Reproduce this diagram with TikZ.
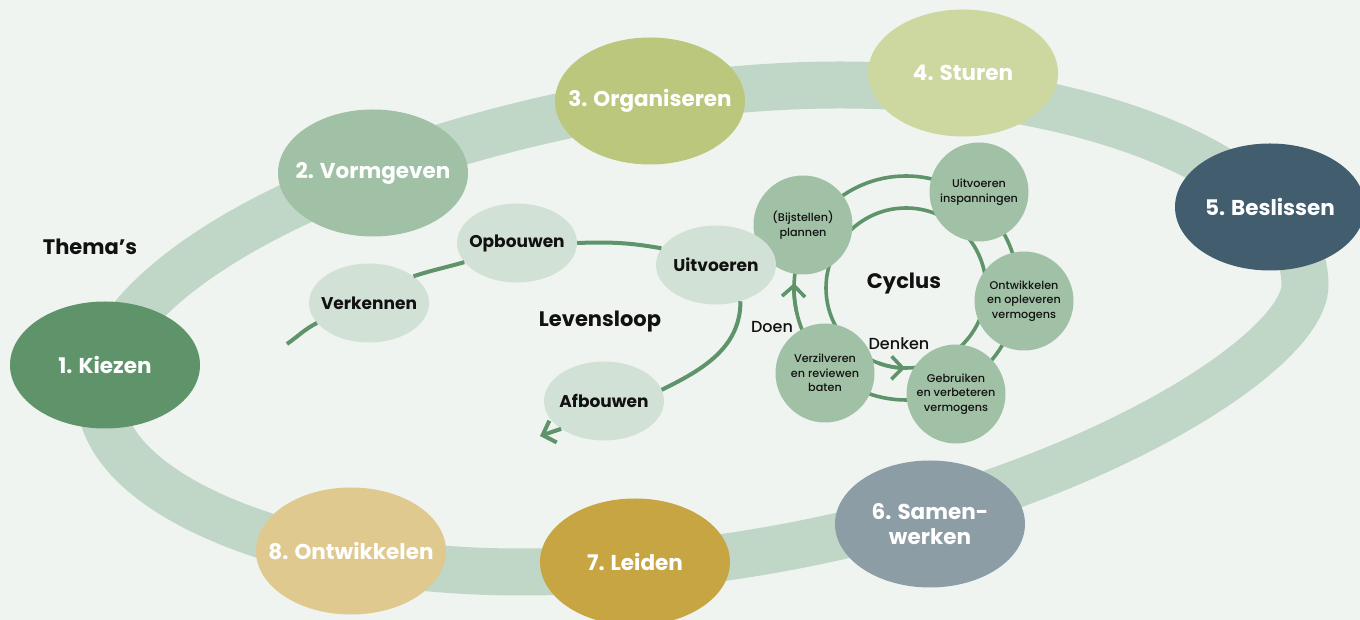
\documentclass[tikz,border=0pt]{standalone}
\usepackage{fontspec}
\setmainfont{Poppins}
\newfontfamily\medfont{Poppins Medium}
\usetikzlibrary{arrows.meta,shapes.geometric}
\definecolor{bgc}{HTML}{EFF4F0}
\definecolor{ringc}{HTML}{C0D7C7}
\definecolor{cA}{HTML}{5F946A}
\definecolor{cB}{HTML}{A1C1A6}
\definecolor{cC}{HTML}{BAC77C}
\definecolor{cD}{HTML}{CDD8A0}
\definecolor{cE}{HTML}{425D6E}
\definecolor{cF}{HTML}{8C9DA6}
\definecolor{cG}{HTML}{C8A543}
\definecolor{cH}{HTML}{DFC98E}
\definecolor{lifec}{HTML}{D2E1D5}
\definecolor{cycc}{HTML}{A1C1A6}
\definecolor{arrc}{HTML}{5F946A}
\definecolor{inkc}{HTML}{111111}
\begin{document}
\begin{tikzpicture}[x=1pt,y=1pt,
  theme/.style={ellipse, minimum width=190pt, minimum height=127pt, inner sep=0pt},
  themetext/.style={text=white, align=center, inner sep=0pt, font=\fontsize{21.5}{25}\selectfont\bfseries},
  phase/.style={ellipse, fill=lifec, minimum width=120pt, minimum height=79pt, inner sep=0pt},
  phasetext/.style={text=inkc, inner sep=0pt, font=\fontsize{17}{20}\selectfont\bfseries},
  stap/.style={circle, fill=cycc, minimum size=99pt, inner sep=0pt},
  staptext/.style={text=inkc, align=center, inner sep=0pt, font=\medfont\fontsize{11.2}{14.5}\selectfont},
  heading/.style={text=inkc, inner sep=0pt, font=\fontsize{21}{25}\selectfont\bfseries},
  minor/.style={text=inkc, inner sep=0pt, font=\medfont\fontsize{16}{19}\selectfont},
  ringline/.style={draw=ringc, line width=47pt},
  life/.style={draw=arrc, line width=4pt},
  cyc/.style={draw=arrc, line width=3.6pt},
  tip/.style={-{Straight Barb[length=11pt,width=23pt]}}
]
\useasboundingbox (0,0) rectangle (1360,620);
\fill[bgc] (0,0) rectangle (1360,620);

% big ring
\draw[ringline] (100,225) .. controls (100,127) and (288,48) .. (520,48)
  .. controls (953,48) and (1305,249) .. (1305,335)
  .. controls (1305,445) and (1096,535) .. (840,535)
  .. controls (507,535) and (100,380) .. (100,225);

% themes
\node[theme, fill=cA, label={[themetext]center:1. Kiezen}] (t1) at (105,255) {};
\node[theme, fill=cB, label={[themetext]center:2. Vormgeven}] (t2) at (373,447) {};
\node[theme, fill=cC, label={[themetext]center:3. Organiseren}] (t3) at (650,519) {};
\node[theme, fill=cD, label={[themetext]center:4. Sturen}] (t4) at (963,547) {};
\node[theme, fill=cE, label={[themetext]center:5. Beslissen}] (t5) at (1270,413) {};
\node[theme, fill=cF, label={[themetext]center:6. Samen-\\werken}] (t6) at (930,96) {};
\node[theme, fill=cG, label={[themetext]center:7. Leiden}] (t7) at (635,58) {};
\node[theme, fill=cH, label={[themetext]center:8. Ontwikkelen}] (t8) at (351,69) {};

% cycle rings
\draw[cyc] (906,332) circle[radius=112pt];
\draw[cyc] (906,332) circle[radius=80pt];

% cycle steps
\node[stap, label={[staptext]center:(Bijstellen)\\plannen}] (plan) at (803,395) {};
\node[stap, label={[staptext]center:Uitvoeren\\inspanningen}] (insp) at (979,428) {};
\node[stap, label={[staptext]center:Ontwikkelen\\en opleveren\\vermogens}] (ontw) at (1024,319) {};
\node[stap, label={[staptext]center:Gebruiken\\en verbeteren\\vermogens}] (gebr) at (956,226) {};
\node[stap, label={[staptext]center:Verzilveren\\en reviewen\\baten}] (verz) at (825,247) {};

% cycle arrows
\draw[cyc, tip] (906,332) ++(192:112pt) arc[start angle=192, end angle=177.5, radius=112pt];
\draw[cyc, tip] (906,332) ++(250:80pt) arc[start angle=250, end angle=269.3, radius=80pt];

% life cycle
\node[phase, label={[phasetext]center:Verkennen}] (verk) at (369,317) {};
\node[phase, label={[phasetext]center:Opbouwen}] (opb) at (517,377) {};
\node[phase, label={[phasetext]center:Uitvoeren}] (uitv) at (716,355) {};
\node[phase, label={[phasetext]center:Afbouwen}] (afb) at (604,219) {};
\coordinate (lstart) at (287,276);
\coordinate (lend) at (540,184);
\draw[life] (lstart) to[out=35,in=207] (verk.201);
\draw[life] (verk.31) to[out=18,in=196] (opb.200);
\draw[life] (opb.0) to[out=2,in=170] (uitv.163);
\draw[life] (uitv.-56) to[out=-90,in=26] (afb.11);
\draw[life, tip] (afb.213) -- (lend);

% headings
\node[heading] (thema) at (90,373) {Thema’s};
\node[heading] (levens) at (600,298) {Levensloop};
\node[heading] (cyclus) at (904,336) {Cyclus};
\node[minor] (doen) at (772,293) {Doen};
\node[minor] (denken) at (899,276) {Denken};
\end{tikzpicture}
\end{document}
